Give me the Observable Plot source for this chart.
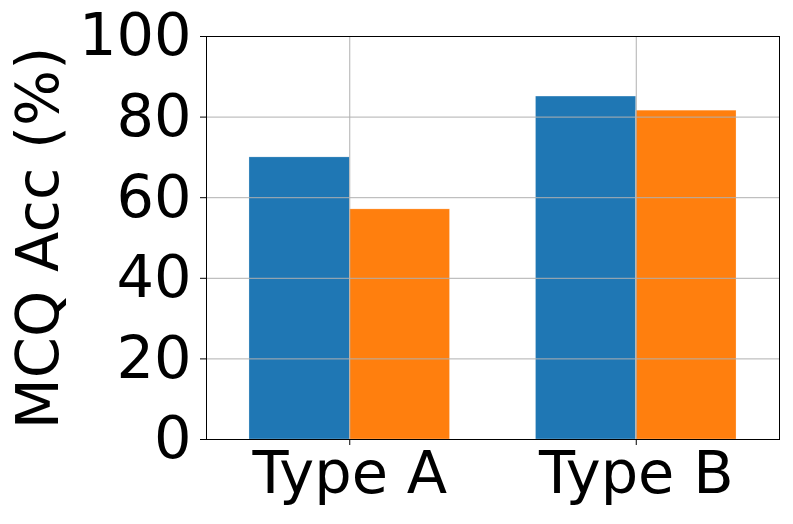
<!DOCTYPE html>
<html>
<head>
<meta charset="utf-8">
<script src="https://cdn.jsdelivr.net/npm/d3@7"></script>
<script src="https://cdn.jsdelivr.net/npm/@observablehq/plot@0.6"></script>
<style>
  html, body { margin: 0; padding: 0; background: white; }
</style>
</head>
<body>
<div id="chart"></div>
<script>
// Data
const categories = ["Type A", "Type B"];
const seriesNames = ["Series 1", "Series 2"];
const series1 = [70.0, 85.1];
const series2 = [57.1, 81.6];
const yTicks = [0, 20, 40, 60, 80, 100];
const yLabel = "MCQ Acc (%)";

const barWidth = 0.35;
const colors = ["#1f77b4", "#ff7f0e"];

const rows = [];
categories.forEach((c, i) => {
  rows.push({cat: c, i, series: seriesNames[0], value: series1[i], x1: i - barWidth, x2: i});
  rows.push({cat: c, i, series: seriesNames[1], value: series2[i], x1: i, x2: i + barWidth});
});

const font = "DejaVu Sans, sans-serif";
const fs = 59;

const chart = Plot.plot({
  width: 793,
  height: 524,
  marginLeft: 206,
  marginRight: 14,
  marginTop: 36,
  marginBottom: 85,
  style: {fontFamily: font, fontSize: fs + "px", color: "black", background: "white"},
  x: {type: "linear", domain: [-0.5, 1.5], axis: null},
  y: {domain: [0, 100], axis: null},
  color: {domain: seriesNames, range: colors},
  marks: [
    Plot.rectY(rows, {x1: "x1", x2: "x2", y1: 0, y2: "value", fill: "series", stroke: "white", strokeWidth: 0.5, strokeOpacity: 0.5}),
    Plot.gridY(yTicks, {stroke: "#b0b0b0", strokeOpacity: 1, strokeWidth: 1}),
    Plot.gridX(categories.map((c, i) => i), {stroke: "#b0b0b0", strokeOpacity: 1, strokeWidth: 1}),
    Plot.axisY(yTicks, {tickSize: 6, tickPadding: 9, fontSize: fs, label: null, stroke: "black"}),
    Plot.axisX(categories.map((c, i) => i), {tickSize: 6, tickPadding: 6, fontSize: fs, label: null, tickFormat: (d) => categories[d], stroke: "black"}),
    Plot.frame({stroke: "black", strokeWidth: 1}),
    Plot.text([yLabel], {frameAnchor: "left", rotate: -90, dx: -167, fontSize: fs, fill: "black", textAnchor: "middle"})
  ]
});
document.getElementById("chart").appendChild(chart);
</script>
</body>
</html>
